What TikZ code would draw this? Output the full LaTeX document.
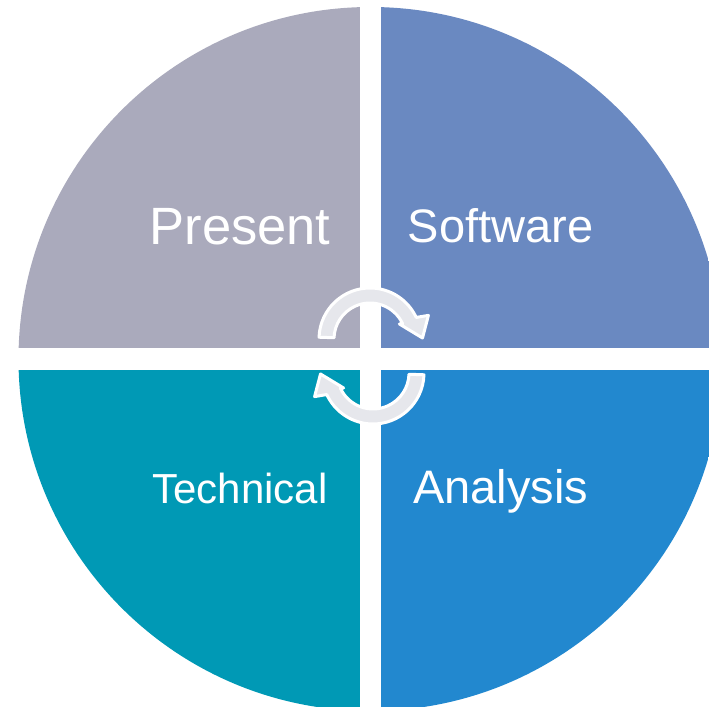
\documentclass[tikz,border=0pt]{standalone}
\usepackage{fontspec}
\setmainfont{Liberation Sans}
\usetikzlibrary{positioning}
\definecolor{presentgray}{HTML}{AAAABC}
\definecolor{softwareblue}{HTML}{6A89C1}
\definecolor{technicalteal}{HTML}{0099B5}
\definecolor{analysisblue}{HTML}{2288CF}
\definecolor{arrowgray}{HTML}{E6E7EC}
\tikzset{
  label/.style={text=white, anchor=base, inner sep=0pt},
  cyclearrow/.style={fill=arrowgray, draw=white, line width=3, line join=round}
}
\begin{document}
\begin{tikzpicture}[x=1pt,y=1pt]
\useasboundingbox (0,0) rectangle (709,707);
\begin{scope}
\clip (0,0) rectangle (709,707);
\clip (370.5,348) circle (352);
\fill[presentgray] (0,359) rectangle (360,707);
\fill[softwareblue] (381,359) rectangle (709,707);
\fill[technicalteal] (0,0) rectangle (360,337);
\fill[analysisblue] (381,0) rectangle (709,337);
\end{scope}

\node[label, font=\fontsize{52.5}{52.5}\selectfont] (present) at (240,462) {Present};
\node[label, font=\fontsize{47}{47}\selectfont] (software) at (500.5,464) {Software};
\node[label, font=\fontsize{42}{42}\selectfont] (technical) at (240,204) {Technical};
\node[label, font=\fontsize{47}{47}\selectfont] (analysis) at (500.5,204) {Analysis};

\begin{scope}[shift={(370,368)}]
\draw[cyclearrow] (178:51) arc[start angle=178, end angle=25, radius=51] -- (22:63) -- (52.5,1) -- (27:33) -- (25:36) arc[start angle=25, end angle=178, radius=36] -- cycle;
\end{scope}
\begin{scope}[shift={(373,334)}, rotate=180]
\draw[cyclearrow] (178:51) arc[start angle=178, end angle=25, radius=51] -- (22:63) -- (52.5,1) -- (27:33) -- (25:36) arc[start angle=25, end angle=178, radius=36] -- cycle;
\end{scope}
\end{tikzpicture}
\end{document}
